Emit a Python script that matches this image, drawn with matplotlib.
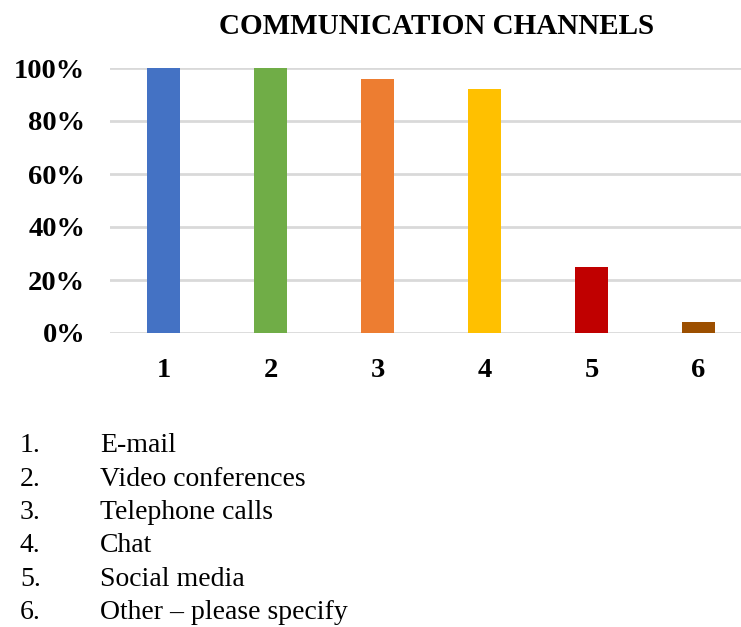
import matplotlib.pyplot as plt
from matplotlib.ticker import PercentFormatter

# Share of respondents using each communication channel
categories = [1, 2, 3, 4, 5, 6]
shares = [100, 100, 96, 92, 25, 4]
channel_names = [
    "E-mail",
    "Video conferences",
    "Telephone calls",
    "Chat",
    "Social media",
    "Other \u2013 please specify",
]
bar_colors = ["#4472C4", "#70AD47", "#ED7D31", "#FFC000", "#C00000", "#9C4F00"]

plt.rcParams["font.family"] = ["Liberation Serif", "DejaVu Serif"]

fig = plt.figure(figsize=(7.41, 6.27), dpi=100)
W, H = 741, 627

# axes spans 0.5..6.5 horizontally, 0..100 vertically (pixel placement)
left, right = 110, 752
top, bottom = 68, 333
ax = fig.add_axes([left / W, 1 - bottom / H, (right - left) / W, (bottom - top) / H])

ax.bar(categories, shares, width=0.31, color=bar_colors, zorder=3)
ax.set_xlim(0.5, 6.5)
ax.set_ylim(0, 100)
ax.set_yticks(range(0, 101, 20))
ax.yaxis.set_major_formatter(PercentFormatter(decimals=0))
ax.set_xticks(categories)
ax.grid(axis="y", color="#D9D9D9", linewidth=2, zorder=0)
ax.set_axisbelow(True)
for s in ax.spines.values():
    s.set_visible(False)
ax.tick_params(length=0, labelsize=20.5)
ax.tick_params(axis="y", pad=18)
ax.tick_params(axis="x", pad=18)
for lbl in ax.get_xticklabels() + ax.get_yticklabels():
    lbl.set_fontweight("bold")

fig.text(437 / W, 1 - 27 / H, "COMMUNICATION CHANNELS", ha="center", va="center",
         fontsize=21, fontweight="bold")

# numbered legend below the chart
for i, name in enumerate(channel_names):
    y = 1 - (446 + i * 33.3) / H
    fig.text(20 / W, y, f"{i + 1}.", ha="left", va="center", fontsize=20)
    fig.text(100 / W, y, name, ha="left", va="center", fontsize=20)

fig.savefig("out.png", dpi=100)
